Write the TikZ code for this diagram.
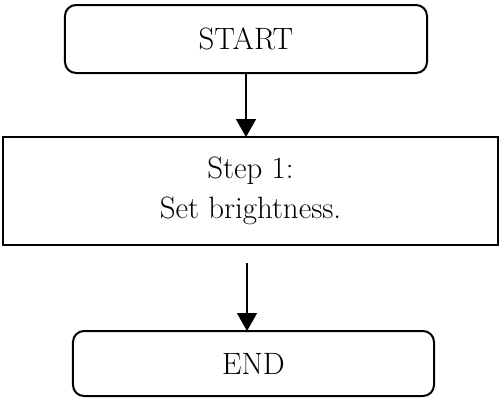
\documentclass[tikz,border=0pt]{standalone}
\usetikzlibrary{arrows.meta}
\begin{document}
\begin{tikzpicture}[x=1bp,y=-1bp,
  every node/.style={inner sep=0pt, outer sep=0pt, font=\fontsize{31}{40}\selectfont},
  terminal/.style={draw, line width=2bp, rounded corners=11bp},
  stepbox/.style={draw, line width=1.6bp, align=center},
  flow/.style={line width=1.5bp, -{Triangle[width=20bp,length=18bp]}}]
  \useasboundingbox (0,0) rectangle (499,398);
  % terminals and the single process step
  \node[terminal, minimum width=362bp, minimum height=68bp] (start) at (246,39) {START};
  \node[stepbox, minimum width=495bp, minimum height=108bp] (step1) at (250.5,191)
    {Step 1:\\Set brightness.};
  \node[terminal, minimum width=361bp, minimum height=65bp] (end) at (253.5,363.5) {END};
  % connectors
  \coordinate (gap) at (247,263);
  \draw[flow] (start.south) -- (start.south |- step1.north);
  \draw[flow] (gap) -- (gap |- end.north);
\end{tikzpicture}
\end{document}
